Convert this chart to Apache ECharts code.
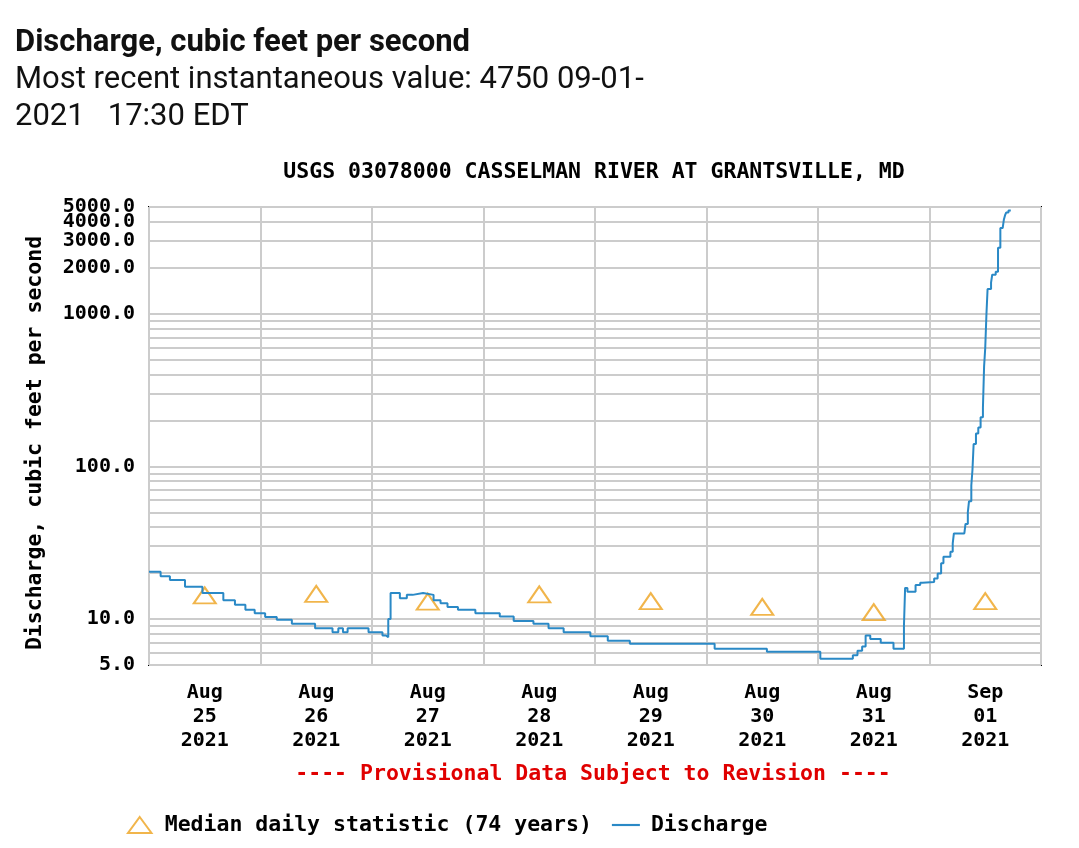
<!DOCTYPE html>
<html>
<head>
<meta charset="utf-8">
<script src="https://cdn.jsdelivr.net/npm/echarts@6/dist/echarts.min.js"></script>
<style>
  html, body { margin: 0; padding: 0; background: #fff; }
  #main { width: 1079px; height: 848px; }
</style>
</head>
<body>
<div id="main"></div>
<script>
// ---- data ----
var flowTimes = [
  '2021-08-25 00:00', '2021-08-25 02:30', '2021-08-25 04:30', '2021-08-25 07:45',
  '2021-08-25 11:30', '2021-08-25 16:00', '2021-08-25 18:30', '2021-08-25 20:45',
  '2021-08-25 22:45', '2021-08-26 01:00', '2021-08-26 03:30', '2021-08-26 06:45',
  '2021-08-26 11:45', '2021-08-26 15:30', '2021-08-26 16:45', '2021-08-26 17:45',
  '2021-08-26 18:45', '2021-08-26 23:15', '2021-08-27 02:15', '2021-08-27 03:00',
  '2021-08-27 03:30', '2021-08-27 04:00', '2021-08-27 06:00', '2021-08-27 07:30',
  '2021-08-27 08:45', '2021-08-27 11:00', '2021-08-27 13:15', '2021-08-27 14:45',
  '2021-08-27 16:15', '2021-08-27 18:30', '2021-08-27 22:15', '2021-08-28 03:30',
  '2021-08-28 06:30', '2021-08-28 10:45', '2021-08-28 14:00', '2021-08-28 17:15',
  '2021-08-28 23:00', '2021-08-29 02:45', '2021-08-29 07:30', '2021-08-30 01:45',
  '2021-08-30 13:00', '2021-08-31 00:30', '2021-08-31 07:30', '2021-08-31 08:30',
  '2021-08-31 09:30', '2021-08-31 10:15', '2021-08-31 11:15', '2021-08-31 13:30',
  '2021-08-31 16:15', '2021-08-31 18:30', '2021-08-31 18:45', '2021-08-31 19:15',
  '2021-08-31 21:00', '2021-08-31 22:00', '2021-08-31 22:30', '2021-09-01 01:00',
  '2021-09-01 01:45', '2021-09-01 02:30', '2021-09-01 03:00', '2021-09-01 04:30',
  '2021-09-01 05:00', '2021-09-01 05:15', '2021-09-01 07:30', '2021-09-01 07:45',
  '2021-09-01 08:15', '2021-09-01 08:30', '2021-09-01 09:00', '2021-09-01 09:15',
  '2021-09-01 09:30', '2021-09-01 10:00', '2021-09-01 10:30', '2021-09-01 11:00',
  '2021-09-01 11:30', '2021-09-01 11:45', '2021-09-01 12:00', '2021-09-01 12:15',
  '2021-09-01 12:30', '2021-09-01 13:15', '2021-09-01 13:30', '2021-09-01 14:15',
  '2021-09-01 14:45', '2021-09-01 15:15', '2021-09-01 15:45', '2021-09-01 16:00',
  '2021-09-01 16:15', '2021-09-01 16:30', '2021-09-01 17:00', '2021-09-01 17:30'
];
var flowValues = [
  20.4, 19.1, 18.0, 16.3,
  14.8, 13.3, 12.4, 11.5,
  10.9, 10.3, 9.9, 9.3,
  8.7, 8.2, 8.7, 8.2,
  8.7, 8.2, 7.8, 7.6,
  10.0, 14.8, 13.7, 14.4,
  14.8, 14.4, 13.3, 12.7,
  12.0, 11.5, 10.9, 10.4,
  9.7, 9.3, 8.7, 8.2,
  7.7, 7.2, 6.9, 6.4,
  6.1, 5.5, 5.8, 6.2,
  6.6, 7.8, 7.4, 7.0,
  6.4, 9.0, 16.0, 15.1,
  16.7, 17.3, 17.5, 18.4,
  19.9, 23.2, 25.6, 27.6,
  31.3, 36.4, 37.3, 42,
  50, 59, 75, 95,
  140, 164, 180, 210,
  241, 450, 600, 980,
  1450, 1600, 1800, 1880,
  2700, 3640, 3750, 4120,
  4400, 4600, 4750, 4750
];

var medianTimes = [
  '2021-08-25 12:00', '2021-08-26 12:00', '2021-08-27 12:00', '2021-08-28 12:00',
  '2021-08-29 12:00', '2021-08-30 12:00', '2021-08-31 12:00', '2021-09-01 12:00'
];
var medianValues = [14.3, 14.6, 13.0, 14.5, 13.1, 12.0, 11.1, 13.1];

var dayLines = [
  '2021-08-25 00:00', '2021-08-26 00:00', '2021-08-27 00:00', '2021-08-28 00:00',
  '2021-08-29 00:00', '2021-08-30 00:00', '2021-08-31 00:00', '2021-09-01 00:00',
  '2021-09-02 00:00'
];
// 4999.99 instead of 5000 so the top tick survives the log rounding
var yGridValues = [5, 6, 7, 8, 9, 10, 20, 30, 40, 50, 60, 70, 80, 90,
  100, 200, 300, 400, 500, 600, 700, 800, 900, 1000, 2000, 3000, 4000, 4999.99];
var yLabelValues = [5, 10, 100, 1000, 2000, 3000];
// 4000 and 5000 sit so close that echarts drops one of them, so each gets its own axis
var yLabel4000 = [4000];
var yLabel5000 = [4999.99];

var monthNames = ['Jan', 'Feb', 'Mar', 'Apr', 'May', 'Jun', 'Jul', 'Aug', 'Sep', 'Oct', 'Nov', 'Dec'];

// 'YYYY-MM-DD hh:mm' -> ms (treated as UTC so the labels don't depend on the machine tz)
function toMs(s) {
  var p = s.split(/[- :]/);
  return Date.UTC(+p[0], +p[1] - 1, +p[2], +p[3], +p[4]);
}
function zip(a, b) {
  var out = [];
  for (var i = 0; i < a.length; i++) out.push([toMs(a[i]), b[i]]);
  return out;
}
function pad2(n) { return (n < 10 ? '0' : '') + n; }

var mono = '"DejaVu Sans Mono", "Liberation Mono", monospace';
var sans = 'Roboto, "Noto Sans", sans-serif';
var medianColor = '#eea21e';
var flowColor = '#2a89c6';

function logAxis(labels, withGrid) {
  return {
    type: 'log',
    logBase: 10,
    min: 5,
    max: 5000,
    position: 'left',
    axisLine: { show: false },
    axisTick: withGrid ? { show: false, customValues: yGridValues } : { show: false },
    splitLine: { show: withGrid, lineStyle: { color: '#cccccc', width: 2 } },
    axisLabel: {
      customValues: labels,
      showMinLabel: true,
      showMaxLabel: true,
      margin: 14,
      fontFamily: mono,
      fontWeight: 'bold',
      fontSize: 20,
      color: '#000',
      formatter: function (v) { return Number(v).toFixed(1); }
    }
  };
}

var myChart = echarts.init(document.getElementById('main'));

var option = {
  backgroundColor: '#fff',
  animation: false,
  graphic: [
    { type: 'text', x: 15, y: 43,
      style: { text: 'Discharge, cubic feet per second', fill: '#111',
               font: 'bold 31px ' + sans, verticalAlign: 'middle' } },
    { type: 'text', x: 15, y: 80,
      style: { text: 'Most recent instantaneous value: 4750 09-01-', fill: '#111',
               font: '31px ' + sans, verticalAlign: 'middle' } },
    { type: 'text', x: 15, y: 117,
      style: { text: '2021   17:30 EDT', fill: '#111',
               font: '31px ' + sans, verticalAlign: 'middle' } },
    { type: 'text', x: 594, y: 172,
      style: { text: 'USGS 03078000 CASSELMAN RIVER AT GRANTSVILLE, MD', fill: '#000',
               font: 'bold 21.5px ' + mono, align: 'center', verticalAlign: 'middle' } },
    { type: 'text', x: 593, y: 774,
      style: { text: '---- Provisional Data Subject to Revision ----', fill: '#e00000',
               font: 'bold 21.5px ' + mono, align: 'center', verticalAlign: 'middle' } },
    { type: 'text', x: 35, y: 443, rotation: Math.PI / 2,
      style: { text: 'Discharge, cubic feet per second', fill: '#000',
               font: 'bold 21.5px ' + mono, align: 'center', verticalAlign: 'middle' } }
  ],
  legend: {
    left: 122,
    top: 809,
    itemWidth: 28,
    itemHeight: 16,
    itemGap: 20,
    symbolKeepAspect: true,
    textStyle: { fontFamily: mono, fontWeight: 'bold', fontSize: 21.5, color: '#000',
                 padding: [0, 0, 0, 6] },
    data: [
      { name: 'Median daily statistic (74 years)', icon: 'path://M11,0L22,15L0,15Z' },
      { name: 'Discharge', icon: 'path://M0,0h26v2h-26z' }
    ]
  },
  grid: {
    left: 149,
    right: 38,
    top: 207,
    bottom: 183,
    show: true,
    borderColor: '#000',
    borderWidth: 2,
    backgroundColor: '#fff'
  },
  xAxis: {
    type: 'value',
    min: toMs(dayLines[0]),
    max: toMs(dayLines[dayLines.length - 1]),
    axisLine: { show: false },
    axisTick: { show: false, customValues: dayLines.map(toMs) },
    splitLine: { show: true, lineStyle: { color: '#cccccc', width: 2 } },
    axisLabel: {
      customValues: medianTimes.map(toMs),
      margin: 16,
      lineHeight: 24,
      fontFamily: mono,
      fontWeight: 'bold',
      fontSize: 20,
      color: '#000',
      formatter: function (val) {
        var d = new Date(val);
        return monthNames[d.getUTCMonth()] + '\n' + pad2(d.getUTCDate()) + '\n' + d.getUTCFullYear();
      }
    }
  },
  yAxis: [
    logAxis(yLabelValues, true),
    logAxis(yLabel4000, false),
    logAxis(yLabel5000, false)
  ],
  series: [
    {
      name: 'Median daily statistic (74 years)',
      type: 'scatter',
      symbol: 'triangle',
      symbolSize: [22, 16],
      itemStyle: { color: 'rgba(255,255,255,0)', borderColor: medianColor, borderWidth: 2 },
      z: 3,
      data: zip(medianTimes, medianValues)
    },
    {
      name: 'Discharge',
      type: 'line',
      step: 'end',
      symbol: 'none',
      lineStyle: { color: flowColor, width: 2 },
      itemStyle: { color: flowColor },
      z: 4,
      data: zip(flowTimes, flowValues)
    }
  ]
};

myChart.setOption(option);
</script>
</body>
</html>
